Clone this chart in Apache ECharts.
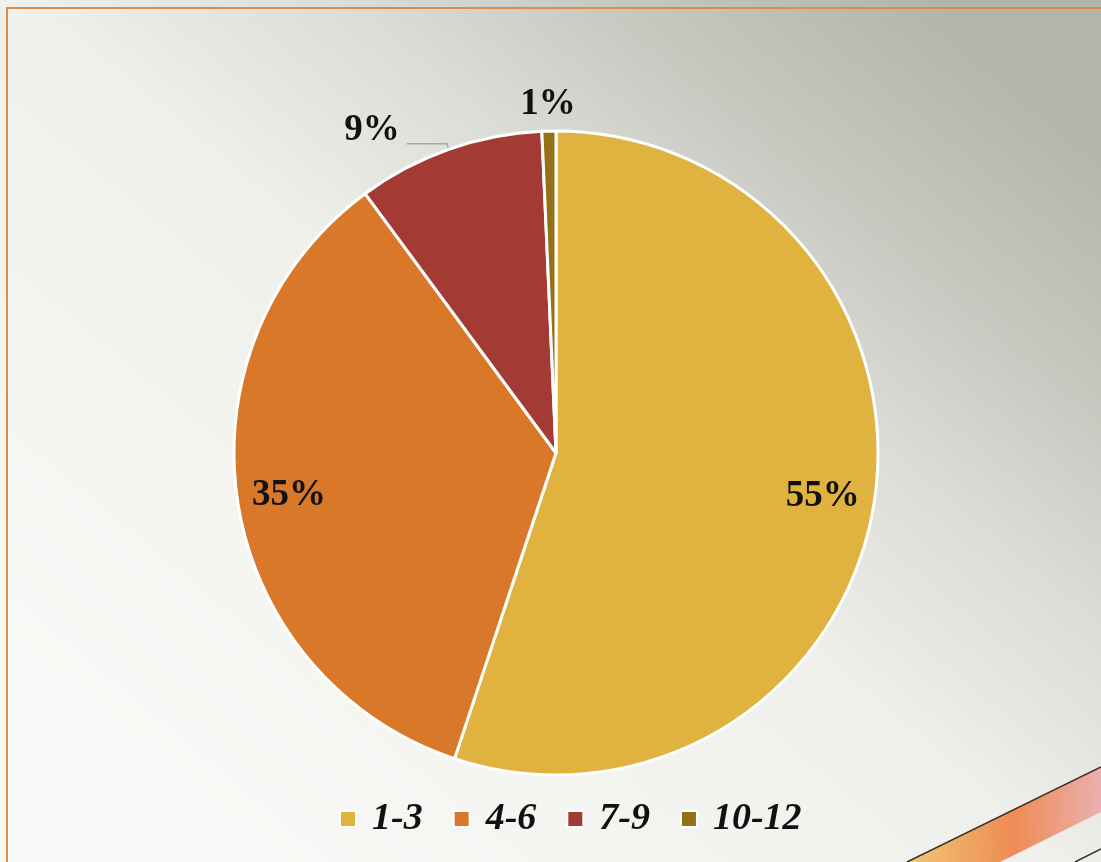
<!DOCTYPE html>
<html>
<head>
<meta charset="utf-8">
<title>Pie</title>
<script src="https://cdn.jsdelivr.net/npm/echarts@6/dist/echarts.min.js"></script>
<style>
  html, body { margin: 0; padding: 0; }
  #chart { width: 1101px; height: 862px; }
</style>
</head>
<body>
<div id="chart"></div>
<script>
// data
const categories = ['1-3', '4-6', '7-9', '10-12'];
const values = [55.1, 34.8, 9.4, 0.7];
const colors = ['#E0B240', '#DA7829', '#A33B34', '#947019'];

const chart = echarts.init(document.getElementById('chart'));

const serif = '"Liberation Serif", "DejaVu Serif", serif';
const center = ['556', '453'];
const radius = 322;

// main slices; small slices get outside labels
const mainData = categories.map((name, i) => ({
  name,
  value: values[i],
  itemStyle: { color: colors[i] },
  label: { show: i >= 2 },
  labelLine: { show: i === 2 }
}));

// transparent ring used only to place the big labels nearer the rim
const ringData = categories.map((name, i) => ({
  name,
  value: values[i],
  label: { show: i < 2 }
}));

const pctLabel = p => Math.round(p.percent) + '%';

const option = {
  backgroundColor: {
    type: 'linear', x: 0.2, y: 1, x2: 0.85, y2: 0,
    colorStops: [
      { offset: 0, color: '#f9f9f7' },
      { offset: 0.48, color: '#efefeb' },
      { offset: 0.66, color: '#dcddd6' },
      { offset: 0.82, color: '#c6c7bf' },
      { offset: 1, color: '#b3b5ab' }
    ]
  },
  animation: false,
  graphic: [
    {
      type: 'rect', silent: true, z: -1,
      shape: { x: 7, y: 8, width: 1200, height: 1000 },
      style: { fill: 'none', stroke: '#E08A4A', lineWidth: 2 }
    },
    // swoosh in the bottom-right corner
    {
      type: 'polygon', silent: true, z: -1,
      shape: { points: [[907, 862], [1101, 767], [1101, 812], [1000, 862]] },
      style: {
        fill: {
          type: 'linear', x: 0, y: 0, x2: 1, y2: 0,
          colorStops: [
            { offset: 0, color: '#f0c060' },
            { offset: 0.55, color: '#ee7a3a' },
            { offset: 1, color: '#eaa6a6' }
          ]
        },
        opacity: 0.85
      }
    },
    {
      type: 'polyline', silent: true, z: -1,
      shape: { points: [[907, 862], [1101, 767]] },
      style: { stroke: '#3a3020', lineWidth: 1.5 }
    },
    {
      type: 'polyline', silent: true, z: -1,
      shape: { points: [[1075, 862], [1101, 849]] },
      style: { stroke: '#3a3020', lineWidth: 1.5 }
    }
  ],
  legend: {
    data: categories,
    left: 334,
    top: 795,
    itemWidth: 16,
    itemHeight: 16,
    itemGap: 30,
    icon: 'rect',
    textStyle: {
      fontFamily: serif,
      fontSize: 38,
      fontWeight: 'bold',
      fontStyle: 'italic',
      color: '#111',
      padding: [0, 0, 0, 11]
    }
  },
  series: [
    {
      type: 'pie',
      center,
      radius,
      startAngle: 90,
      clockwise: true,
      avoidLabelOverlap: false,
      data: mainData,
      itemStyle: { borderColor: '#fff', borderWidth: 3 },
      label: {
        position: 'outside',
        formatter: pctLabel,
        fontFamily: serif,
        fontSize: 37,
        fontWeight: 'bold',
        color: '#111',
        distanceToLabelLine: 7
      },
      labelLine: {
        length: 6,
        length2: 40,
        lineStyle: { color: '#a6a6a6', width: 1.5 }
      },
      // 9% sits a little above its leader line, 1% centred over its sliver
      labelLayout: p => (p.dataIndex === 3 ? { dx: 74, dy: -21 } : { dy: -13 }),
      emphasis: { disabled: true }
    },
    {
      type: 'pie',
      center,
      radius: [radius * 0.66, radius],
      startAngle: 90,
      clockwise: true,
      silent: true,
      data: ringData,
      itemStyle: { color: 'rgba(0,0,0,0)' },
      label: {
        position: 'inside',
        formatter: pctLabel,
        fontFamily: serif,
        fontSize: 37,
        fontWeight: 'bold',
        color: '#111'
      },
      labelLine: { show: false },
      emphasis: { disabled: true }
    }
  ]
};

chart.setOption(option);
</script>
</body>
</html>
